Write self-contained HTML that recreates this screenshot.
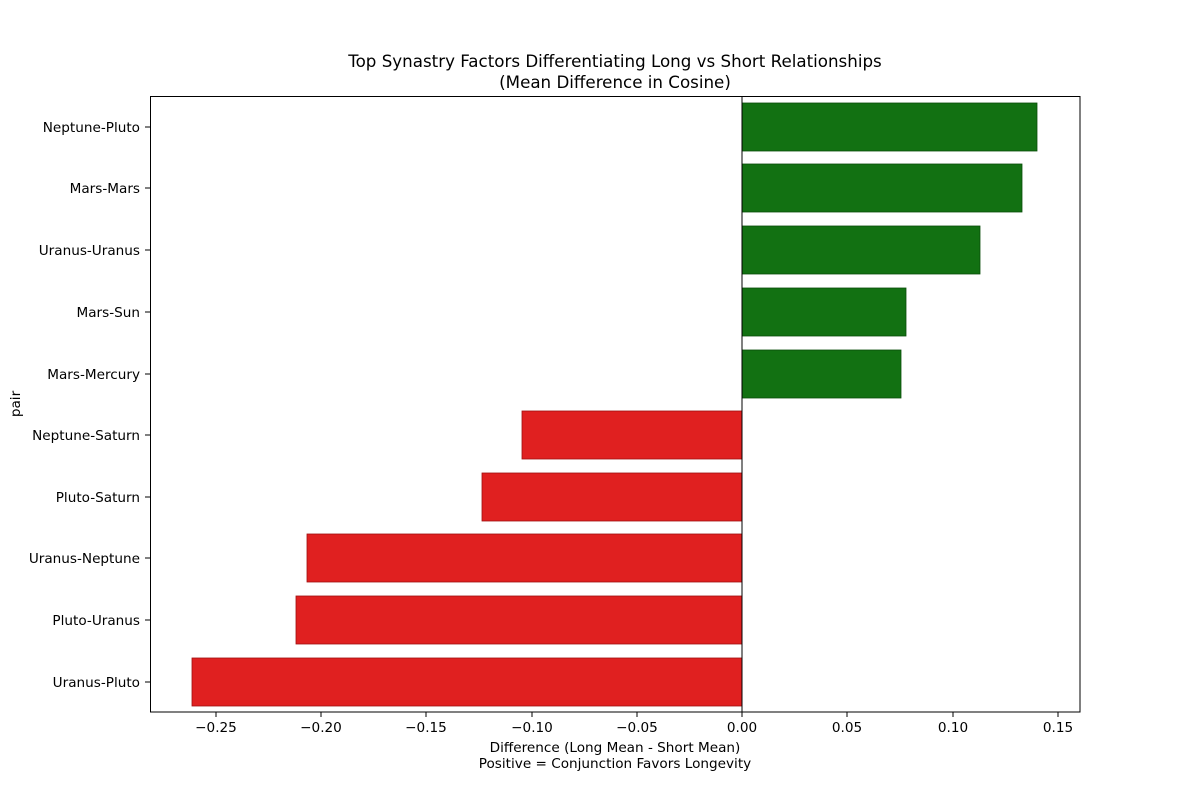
<!DOCTYPE html>
<html><head><meta charset="utf-8"><style>body{margin:0;background:#fff}svg{display:block}text{font-family:"DejaVu Sans","Liberation Sans",sans-serif;fill:#000}</style></head>
<body>
<svg width="1200" height="800" viewBox="0 0 1200 800" xmlns="http://www.w3.org/2000/svg">
<rect width="1200" height="800" fill="#fff"/>
<text x="615" y="67" font-size="16.7" text-anchor="middle">Top Synastry Factors Differentiating Long vs Short Relationships</text>
<text x="615" y="88" font-size="16.7" text-anchor="middle">(Mean Difference in Cosine)</text>
<g stroke="#0a4d0a" stroke-width="0.8" fill="#127112">
<rect x="742" y="103" width="295" height="48"/>
<rect x="742" y="164" width="280" height="48"/>
<rect x="742" y="226" width="238" height="48"/>
<rect x="742" y="288" width="164" height="48"/>
<rect x="742" y="350" width="159" height="48"/>
</g>
<g stroke="#a01010" stroke-width="0.8" fill="#e02020">
<rect x="522" y="411" width="220" height="48"/>
<rect x="482" y="473" width="260" height="48"/>
<rect x="307" y="534" width="435" height="48"/>
<rect x="296" y="596" width="446" height="48"/>
<rect x="192" y="658" width="550" height="48"/>
</g>
<line x1="742" y1="96" x2="742" y2="712" stroke="#000" stroke-width="1"/>
<rect x="150.5" y="96.5" width="929.5" height="615.5" fill="none" stroke="#000" stroke-width="1"/>
<g font-size="13.6" text-anchor="end">
<text x="140" y="132">Neptune-Pluto</text>
<text x="140" y="193">Mars-Mars</text>
<text x="140" y="255">Uranus-Uranus</text>
<text x="140" y="317">Mars-Sun</text>
<text x="140" y="379">Mars-Mercury</text>
<text x="140" y="440">Neptune-Saturn</text>
<text x="140" y="502">Pluto-Saturn</text>
<text x="140" y="563">Uranus-Neptune</text>
<text x="140" y="625">Pluto-Uranus</text>
<text x="140" y="687">Uranus-Pluto</text>
</g>
<g stroke="#000">
<line x1="145" x2="150" y1="127" y2="127"/><line x1="145" x2="150" y1="188" y2="188"/><line x1="145" x2="150" y1="250" y2="250"/><line x1="145" x2="150" y1="312" y2="312"/><line x1="145" x2="150" y1="374" y2="374"/><line x1="145" x2="150" y1="435" y2="435"/><line x1="145" x2="150" y1="497" y2="497"/><line x1="145" x2="150" y1="558" y2="558"/><line x1="145" x2="150" y1="620" y2="620"/><line x1="145" x2="150" y1="682" y2="682"/>
<line y1="712" y2="717" x1="216" x2="216"/><line y1="712" y2="717" x1="321" x2="321"/><line y1="712" y2="717" x1="426" x2="426"/><line y1="712" y2="717" x1="532" x2="532"/><line y1="712" y2="717" x1="637" x2="637"/><line y1="712" y2="717" x1="742" x2="742"/><line y1="712" y2="717" x1="847" x2="847"/><line y1="712" y2="717" x1="953" x2="953"/><line y1="712" y2="717" x1="1058" x2="1058"/>
</g>
<g font-size="13.6" text-anchor="middle">
<text x="216" y="732">−0.25</text><text x="321" y="732">−0.20</text><text x="426" y="732">−0.15</text><text x="532" y="732">−0.10</text><text x="637" y="732">−0.05</text><text x="742" y="732">0.00</text><text x="847" y="732">0.05</text><text x="953" y="732">0.10</text><text x="1058" y="732">0.15</text>
<text x="615" y="752">Difference (Long Mean - Short Mean)</text>
<text x="615" y="768">Positive = Conjunction Favors Longevity</text>
</g>
<text font-size="13.6" text-anchor="middle" transform="translate(20,404) rotate(-90)">pair</text>
</svg>
</body></html>
